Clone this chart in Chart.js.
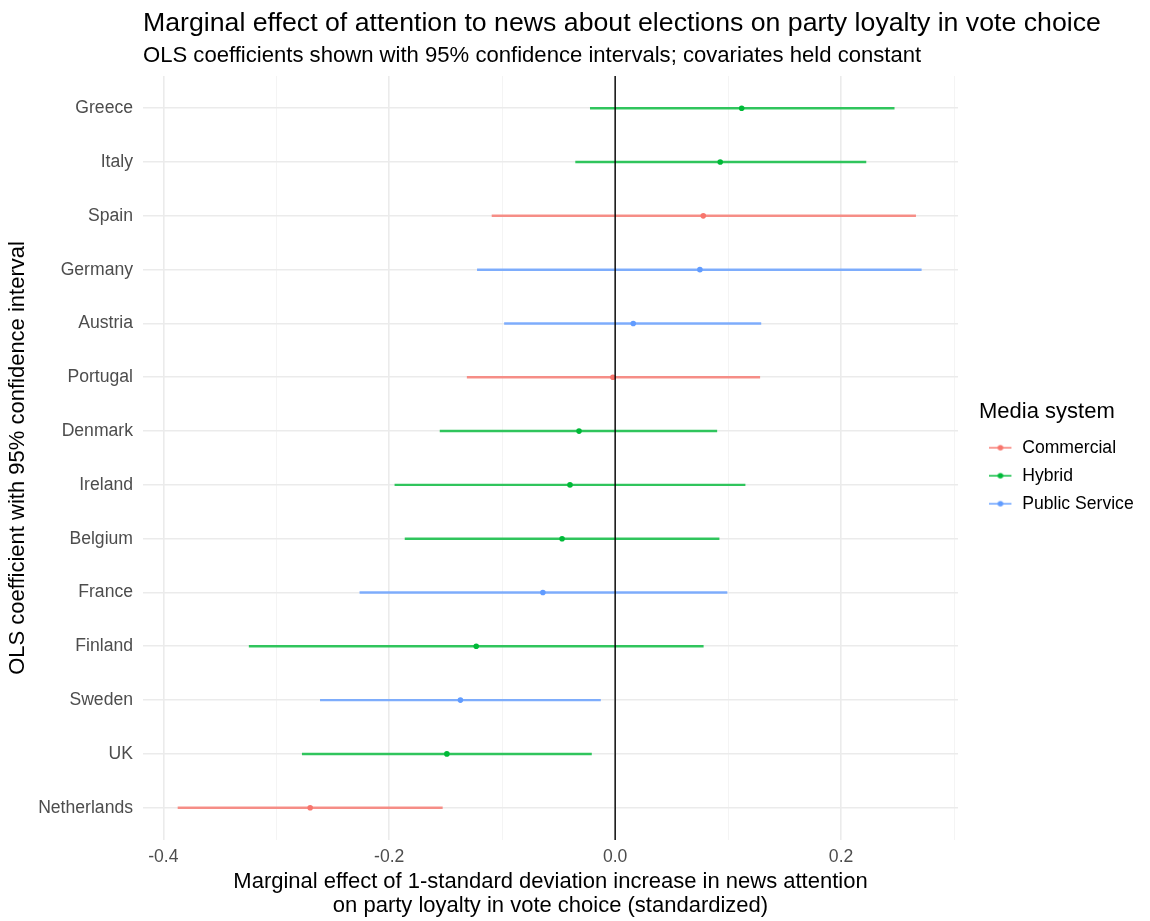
<!DOCTYPE html>
<html>
<head>
<meta charset="utf-8">
<script src="https://cdn.jsdelivr.net/npm/chart.js@4.4.0/dist/chart.umd.min.js"></script>
<style>
  body { margin: 0; background: #fff; }
  #wrap { width: 1150px; height: 921px; position: relative; }
</style>
</head>
<body>
<div id="wrap"><canvas id="chart"></canvas></div>
<script>
// values
const countries = ['Greece', 'Italy', 'Spain', 'Germany', 'Austria', 'Portugal', 'Denmark',
    'Ireland', 'Belgium', 'France', 'Finland', 'Sweden', 'UK', 'Netherlands'];
const estimate = [0.112, 0.093, 0.078, 0.075, 0.016, -0.002, -0.032, -0.040, -0.047, -0.064, -0.123, -0.137, -0.149, -0.270];
const lower = [-0.022, -0.035, -0.109, -0.122, -0.098, -0.131, -0.155, -0.195, -0.186, -0.226, -0.324, -0.261, -0.277, -0.387];
const upper = [0.247, 0.222, 0.266, 0.271, 0.129, 0.128, 0.090, 0.115, 0.092, 0.099, 0.078, -0.013, -0.021, -0.153];
const system = ['Hybrid', 'Hybrid', 'Commercial', 'Public Service', 'Public Service', 'Commercial', 'Hybrid',
    'Hybrid', 'Hybrid', 'Public Service', 'Hybrid', 'Public Service', 'Hybrid', 'Commercial'];
const systems = ['Commercial', 'Hybrid', 'Public Service'];
const tickValues = [-0.4, -0.3, -0.2, -0.1, 0, 0.1, 0.2, 0.3];
const tickLabels = ['-0.4', '', '-0.2', '', '0.0', '', '0.2', ''];

const pointColor = { 'Commercial': '#F8766D', 'Hybrid': '#00BA38', 'Public Service': '#619CFF' };
const lineColor = { 'Commercial': 'rgba(248,118,109,0.8)', 'Hybrid': 'rgba(0,186,56,0.8)', 'Public Service': 'rgba(97,156,255,0.8)' };

const FONT = "'Liberation Sans', Arial, sans-serif";

function legendIcon(sys) {
    let c = document.createElement('canvas');
    c.width = 24;
    c.height = 8;
    let g = c.getContext('2d');
    g.strokeStyle = lineColor[sys];
    g.lineWidth = 1.8;
    g.beginPath();
    g.moveTo(0, 4);
    g.lineTo(22, 4);
    g.stroke();
    g.fillStyle = pointColor[sys];
    g.beginPath();
    g.arc(11, 4, 2.8, 0, Math.PI * 2);
    g.fill();
    return c;
}

const zeroLine = {
    id: 'zeroLine',
    afterDatasetsDraw(chart) {
        let ctx = chart.ctx;
        let x = chart.scales.x.getPixelForValue(0);
        let area = chart.chartArea;
        ctx.save();
        ctx.strokeStyle = '#000';
        ctx.lineWidth = 1.4;
        ctx.beginPath();
        ctx.moveTo(x, area.top);
        ctx.lineTo(x, area.bottom);
        ctx.stroke();
        ctx.restore();
    }
};

// ggplot style: titles start at the panel's left edge, and a gap sits between panel and legend
const ggLayout = {
    id: 'ggLayout',
    afterInit(chart) {
        let legend = chart.legend;
        let fit = legend.fit;
        legend.fit = function() {
            fit.call(this);
            this.width = Math.max(this.width, 192);
        };
    },
    afterLayout(chart) {
        let legend = chart.legend;
        legend.left = chart.chartArea.right + 21;
        legend.top -= 1;
        legend.bottom -= 1;
        chart.boxes.forEach(b => {
            if (b.position === 'top' && b.options && b.options.align === 'start') {
                b.left = chart.chartArea.left;
            }
        });
    }
};

let ctx = document.getElementById('chart').getContext('2d');
let chart = new Chart(ctx, {
    type: 'bar',
    data: {
        datasets: [{
            label: 'interval',
            data: countries.map((c, i) => ({ y: i, x: [lower[i], upper[i]] })),
            backgroundColor: system.map(s => lineColor[s]),
            borderWidth: 0,
            barThickness: 1.8
        }, {
            type: 'scatter',
            label: 'estimate',
            data: countries.map((c, i) => ({ x: estimate[i], y: i })),
            backgroundColor: system.map(s => pointColor[s]),
            borderWidth: 0,
            pointRadius: 2.8
        }]
    },
    options: {
        indexAxis: 'y',
        responsive: true,
        maintainAspectRatio: false,
        animation: false,
        layout: { padding: { left: 5, right: 0, top: 8, bottom: 3 } },
        plugins: {
            tooltip: { enabled: false },
            title: {
                display: true,
                text: 'Marginal effect of attention to news about elections on party loyalty in vote choice',
                align: 'start',
                color: '#000',
                font: { family: FONT, size: 26.7, weight: 'normal' },
                padding: { top: 0, bottom: 0 }
            },
            subtitle: {
                display: true,
                text: 'OLS coefficients shown with 95% confidence intervals; covariates held constant',
                align: 'start',
                color: '#000',
                font: { family: FONT, size: 22.1, weight: 'normal' },
                padding: { top: 2.2, bottom: 7.2 }
            },
            legend: {
                position: 'right',
                title: {
                    display: true,
                    text: 'Media system',
                    position: 'start',
                    color: '#000',
                    font: { family: FONT, size: 22 },
                    padding: { top: 0, bottom: 1 }
                },
                labels: {
                    usePointStyle: true,
                    pointStyleWidth: 24,
                    color: '#000',
                    font: { family: FONT, size: 17.6 },
                    padding: 10.4,
                    generateLabels: () => systems.map(s => ({
                        text: s,
                        pointStyle: legendIcon(s),
                        fillStyle: pointColor[s],
                        strokeStyle: pointColor[s],
                        lineWidth: 0,
                        hidden: false
                    }))
                }
            }
        },
        scales: {
            x: {
                type: 'linear',
                min: -0.418,
                max: 0.3035,
                afterBuildTicks: axis => {
                    axis.ticks = tickValues.map(v => ({ value: v }));
                },
                afterFit: axis => {
                    axis.height = 78;
                },
                ticks: {
                    autoSkip: false,
                    maxRotation: 0,
                    color: '#4D4D4D',
                    font: { family: FONT, size: 17.6, lineHeight: 1 },
                    padding: 8.2,
                    callback: (v, i) => tickLabels[i]
                },
                grid: {
                    drawTicks: false,
                    color: c => (tickLabels[c.index] ? '#EBEBEB' : '#F3F3F3'),
                    lineWidth: c => (tickLabels[c.index] ? 1.6 : 0.9)
                },
                border: { display: false },
                title: {
                    display: true,
                    text: ['Marginal effect of 1-standard deviation increase in news attention',
                        'on party loyalty in vote choice (standardized)'],
                    color: '#000',
                    font: { family: FONT, size: 22, lineHeight: 1.09 },
                    padding: { top: 0, bottom: 0 }
                }
            },
            y: {
                type: 'linear',
                reverse: true,
                offset: false,
                min: -0.6,
                max: countries.length - 0.4,
                afterBuildTicks: axis => {
                    axis.ticks = countries.map((c, i) => ({ value: i }));
                },
                afterFit: axis => {
                    axis.width = 138;
                },
                ticks: {
                    autoSkip: false,
                    color: '#4D4D4D',
                    font: { family: FONT, size: 17.6 },
                    padding: 10,
                    callback: v => countries[v]
                },
                grid: {
                    offset: false,
                    drawTicks: false,
                    color: '#EBEBEB',
                    lineWidth: 1.6
                },
                border: { display: false },
                title: {
                    display: true,
                    text: 'OLS coefficient with 95% confidence interval',
                    color: '#000',
                    font: { family: FONT, size: 22 },
                    padding: { top: 0, bottom: 0 }
                }
            }
        }
    },
    plugins: [zeroLine, ggLayout]
});
</script>
</body>
</html>
